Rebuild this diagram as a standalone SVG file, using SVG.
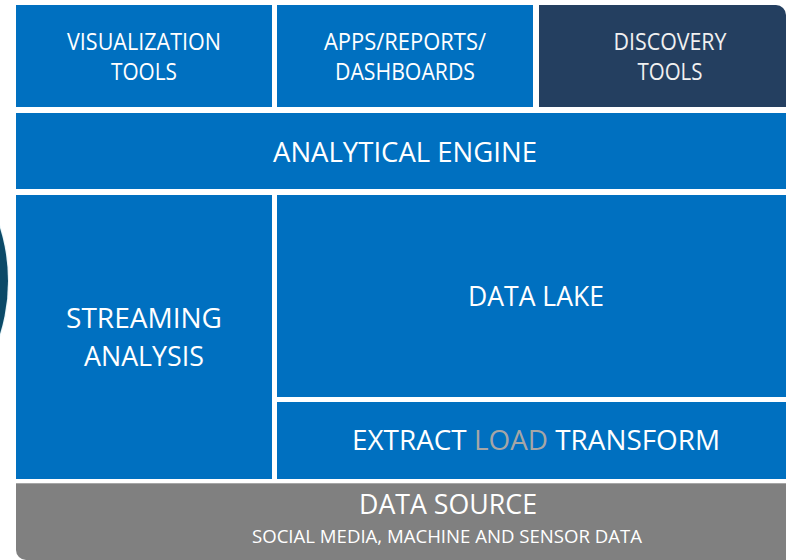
<svg xmlns="http://www.w3.org/2000/svg" width="786" height="560" viewBox="0 0 786 560">
<style>
.blue{fill:#0070C0}
.navy{fill:#243F60}
.gray{fill:#808080}
text{font-family:"Open Sans",Lato,"Liberation Sans",sans-serif;font-weight:400;fill:#FFFFFF;text-anchor:middle}
.s{font-size:23.5px}
.m{font-size:26.5px}
.l{font-size:28px}
.xs{font-size:18px}
.load{fill:#A6A6A6}
</style>
<rect width="786" height="560" fill="#FFFFFF"/>
<circle cx="-172" cy="281" r="181" fill="#E6F4F8"/>
<circle cx="-172" cy="281" r="180" fill="#0B4A68"/>
<g id="visualization-tools">
<rect class="blue" x="16" y="5" width="256" height="102"/>
<text class="s" x="144" y="50" textLength="154" lengthAdjust="spacingAndGlyphs">VISUALIZATION</text>
<text class="s" x="144" y="80" textLength="66" lengthAdjust="spacingAndGlyphs">TOOLS</text>
</g>
<g id="apps-reports">
<rect class="blue" x="277" y="5" width="256" height="102"/>
<text class="s" x="405" y="50" textLength="162" lengthAdjust="spacingAndGlyphs">APPS/REPORTS/</text>
<text class="s" x="405" y="80" textLength="140" lengthAdjust="spacingAndGlyphs">DASHBOARDS</text>
</g>
<g id="discovery-tools">
<path class="navy" d="M539 5 H776 A10 10 0 0 1 786 15 V107 H539 Z"/>
<text class="s" x="670" y="50" textLength="113" lengthAdjust="spacingAndGlyphs" style="fill:#F0F0F0">DISCOVERY</text>
<text class="s" x="670" y="80" textLength="65" lengthAdjust="spacingAndGlyphs" style="fill:#F0F0F0">TOOLS</text>
</g>
<g id="analytical-engine">
<rect class="blue" x="16" y="113" width="770" height="76"/>
<text class="l" x="405" y="162" textLength="264" lengthAdjust="spacingAndGlyphs">ANALYTICAL ENGINE</text>
</g>
<g id="streaming-analysis">
<rect class="blue" x="16" y="195" width="256" height="284"/>
<text class="m" x="144" y="328" textLength="156" lengthAdjust="spacingAndGlyphs">STREAMING</text>
<text class="m" x="144" y="366" textLength="120" lengthAdjust="spacingAndGlyphs">ANALYSIS</text>
</g>
<g id="data-lake">
<rect class="blue" x="277" y="195" width="509" height="202"/>
<text class="l" x="536" y="306" textLength="136" lengthAdjust="spacingAndGlyphs">DATA LAKE</text>
</g>
<g id="elt">
<rect class="blue" x="277" y="402" width="509" height="77"/>
<text class="l" x="536" y="450" textLength="368" lengthAdjust="spacingAndGlyphs">EXTRACT <tspan class="load">LOAD</tspan> TRANSFORM</text>
</g>
<g id="data-source">
<path class="gray" d="M16 483 H786 V560 H26 A10 10 0 0 1 16 550 Z"/>
<line x1="16" y1="483.5" x2="786" y2="483.5" stroke="#A6A6A6" stroke-width="1"/>
<text class="l" x="448" y="514" textLength="178" lengthAdjust="spacingAndGlyphs">DATA SOURCE</text>
<text class="xs" x="447" y="543" textLength="390" lengthAdjust="spacingAndGlyphs">SOCIAL MEDIA, MACHINE AND SENSOR DATA</text>
</g>
<g id="connectors"></g>
</svg>
